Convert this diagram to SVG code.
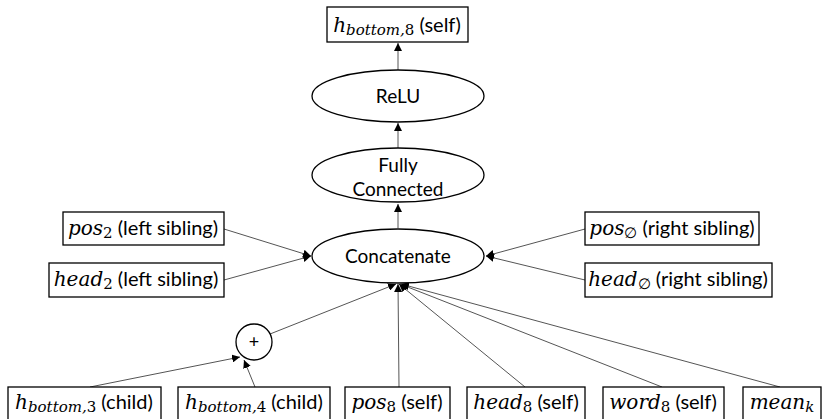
<svg xmlns="http://www.w3.org/2000/svg" width="822" height="419" viewBox="0 0 822 419">
  <style>
    .box { fill: #fff; stroke: #000; stroke-width: 1.3; }
    .op { fill: #fff; stroke: #000; stroke-width: 1.3; }
    .lbl { font-family: Lato, "Open Sans", "Liberation Sans", sans-serif; font-size: 20px; fill: #000; }
    .olbl { font-family: Lato, "Open Sans", "Liberation Sans", sans-serif; font-size: 19px; fill: #000; }
    .m { font-family: "DejaVu Serif", "Liberation Serif", serif; font-style: italic; font-size: 20px; }
    .ms { font-family: "DejaVu Serif", "Liberation Serif", serif; font-style: italic; font-size: 15px; }
    .mn { font-family: "DejaVu Serif", "Liberation Serif", serif; font-size: 15px; }
    .edge { stroke: #555; stroke-width: 1; fill: none; marker-end: url(#arrow); }
  </style>
  <defs>
    <marker id="arrow" viewBox="0 0 10 10" refX="10" refY="5" markerWidth="8" markerHeight="8" markerUnits="userSpaceOnUse" orient="auto">
      <path d="M0,0 L10,5 L0,10 z" fill="#000"/>
    </marker>
  </defs>

  <!-- connectors -->
  <g id="edges">
    <line class="edge" x1="398" y1="70" x2="398" y2="43"/>
    <line class="edge" x1="398" y1="148" x2="398" y2="123"/>
    <line class="edge" x1="398" y1="228" x2="398" y2="204"/>
    <line class="edge" x1="224" y1="229" x2="311" y2="256"/>
    <line class="edge" x1="224" y1="280" x2="311" y2="256"/>
    <line class="edge" x1="585" y1="229" x2="486" y2="256"/>
    <line class="edge" x1="585" y1="280" x2="486" y2="256"/>
    <line class="edge" x1="270" y1="334" x2="396" y2="284"/>
    <line class="edge" x1="399" y1="387" x2="398" y2="284"/>
    <line class="edge" x1="525" y1="387" x2="399" y2="284"/>
    <line class="edge" x1="662" y1="387" x2="400" y2="284"/>
    <line class="edge" x1="780" y1="387" x2="401" y2="284"/>
    <line class="edge" x1="90" y1="387" x2="240" y2="357"/>
    <line class="edge" x1="255" y1="387" x2="244" y2="360"/>
  </g>

  <!-- output -->
  <g id="h_bottom_8">
    <rect class="box" x="327" y="7" width="141" height="35"/>
    <text class="lbl" x="397" y="32" text-anchor="middle"><tspan class="m">h</tspan><tspan class="ms" dy="3">bottom,</tspan><tspan class="mn">8</tspan><tspan dy="-3"> (self)</tspan></text>
  </g>

  <g id="relu">
    <ellipse class="op" cx="398" cy="96" rx="86" ry="26"/>
    <text class="olbl" x="398" y="103" text-anchor="middle">ReLU</text>
  </g>

  <g id="fully_connected">
    <ellipse class="op" cx="398" cy="175" rx="86" ry="27"/>
    <text class="olbl" x="398" y="172" text-anchor="middle">Fully</text>
    <text class="olbl" x="398" y="196" text-anchor="middle">Connected</text>
  </g>

  <g id="concatenate">
    <ellipse class="op" cx="398" cy="256" rx="86" ry="27"/>
    <text class="olbl" x="398" y="263" text-anchor="middle">Concatenate</text>
  </g>

  <!-- siblings -->
  <g id="pos_2">
    <rect class="box" x="63" y="212" width="161" height="33"/>
    <text class="lbl" x="143" y="235" text-anchor="middle"><tspan class="m">pos</tspan><tspan class="mn" dy="3">2</tspan><tspan dy="-3"> (left sibling)</tspan></text>
  </g>
  <g id="head_2">
    <rect class="box" x="49" y="263" width="175" height="34"/>
    <text class="lbl" x="136" y="286" text-anchor="middle"><tspan class="m">head</tspan><tspan class="mn" dy="3">2</tspan><tspan dy="-3"> (left sibling)</tspan></text>
  </g>
  <g id="pos_empty">
    <rect class="box" x="585" y="212" width="174" height="33"/>
    <text class="lbl" x="672" y="235" text-anchor="middle"><tspan class="m">pos</tspan><tspan class="mn" dy="3">∅</tspan><tspan dy="-3"> (right sibling)</tspan></text>
  </g>
  <g id="head_empty">
    <rect class="box" x="585" y="263" width="187" height="34"/>
    <text class="lbl" x="678" y="286" text-anchor="middle"><tspan class="m">head</tspan><tspan class="mn" dy="3">∅</tspan><tspan dy="-3"> (right sibling)</tspan></text>
  </g>

  <!-- children sum -->
  <g id="plus">
    <circle class="op" cx="254" cy="342" r="18"/>
    <text class="olbl" x="254" y="348" text-anchor="middle" style="font-size:18px">+</text>
  </g>

  <!-- bottom inputs -->
  <g id="h_bottom_3">
    <rect class="box" x="8" y="387" width="153" height="40"/>
    <text class="lbl" x="84" y="409" text-anchor="middle"><tspan class="m">h</tspan><tspan class="ms" dy="3">bottom,</tspan><tspan class="mn">3</tspan><tspan dy="-3"> (child)</tspan></text>
  </g>
  <g id="h_bottom_4">
    <rect class="box" x="178" y="387" width="152" height="40"/>
    <text class="lbl" x="254" y="409" text-anchor="middle"><tspan class="m">h</tspan><tspan class="ms" dy="3">bottom,</tspan><tspan class="mn">4</tspan><tspan dy="-3"> (child)</tspan></text>
  </g>
  <g id="pos_8">
    <rect class="box" x="345" y="387" width="105" height="40"/>
    <text class="lbl" x="397" y="409" text-anchor="middle"><tspan class="m">pos</tspan><tspan class="mn" dy="3">8</tspan><tspan dy="-3"> (self)</tspan></text>
  </g>
  <g id="head_8">
    <rect class="box" x="467" y="387" width="118" height="40"/>
    <text class="lbl" x="526" y="409" text-anchor="middle"><tspan class="m">head</tspan><tspan class="mn" dy="3">8</tspan><tspan dy="-3"> (self)</tspan></text>
  </g>
  <g id="word_8">
    <rect class="box" x="603" y="387" width="121" height="40"/>
    <text class="lbl" x="663" y="409" text-anchor="middle"><tspan class="m">word</tspan><tspan class="mn" dy="3">8</tspan><tspan dy="-3"> (self)</tspan></text>
  </g>
  <g id="mean_k">
    <rect class="box" x="743" y="387" width="78" height="40"/>
    <text class="lbl" x="782" y="409" text-anchor="middle"><tspan class="m">mean</tspan><tspan class="ms" dy="3">k</tspan></text>
  </g>
</svg>
